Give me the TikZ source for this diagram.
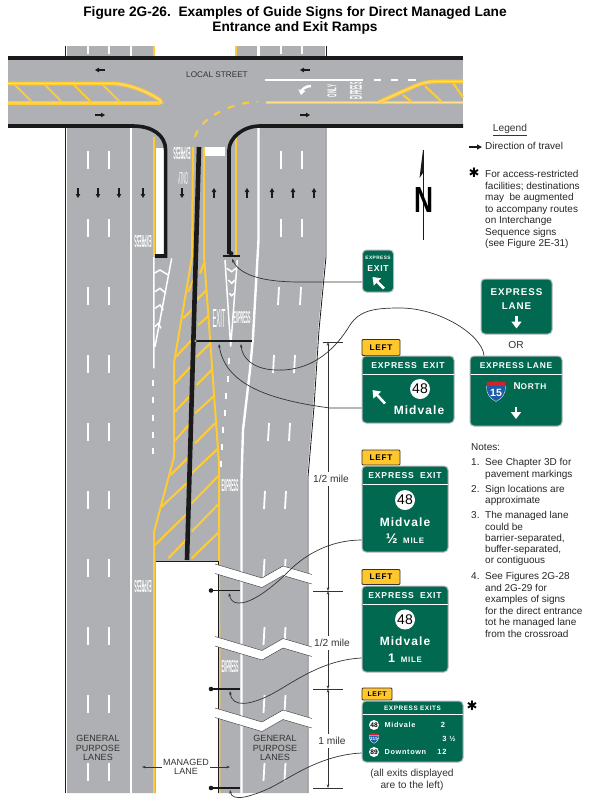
\documentclass[tikz,border=0pt]{standalone}
\usepackage{fontspec}
\usepackage{graphicx}
\usetikzlibrary{arrows.meta}
\setmainfont{Liberation Sans}
\newfontfamily\signfont[LetterSpace=9]{Liberation Sans}
\newfontfamily\symfont{DejaVu Sans}
\definecolor{roadgray}{HTML}{AEB0B3}
\definecolor{lineyellow}{HTML}{FFCB34}
\definecolor{curbblack}{HTML}{1A1A1A}
\definecolor{signgreen}{HTML}{00694F}
\definecolor{signedge}{HTML}{B4B7B9}
\definecolor{tabyellow}{HTML}{FFC72C}
\definecolor{inkgray}{HTML}{333333}
\definecolor{shieldblue}{HTML}{1F5CA8}
\definecolor{shieldred}{HTML}{D2232A}
\newcommand\fs[1]{\fontsize{#1}{#1}\selectfont}
% pavement word: name, x, y, rotation, width, height, text
\newcommand\pavemark[7]{\node[white,inner sep=0,rotate=#4] (#1) at (#2,#3) {\resizebox{#5pt}{#6pt}{#7}};}
% interstate shield: prefix, x, y, size, font size, number
\newcommand\ishield[6]{\begin{scope}[shift={(#2,#3)},scale=#4]
\fill[shieldblue,draw=white,line width=.3pt] (-1,-.55) .. controls (-1.05,.2) and (-.7,.8) .. (0,1.1) .. controls (.7,.8) and (1.05,.2) .. (1,-.55) -- cycle;
\fill[shieldred] (-1,-.55) -- (1,-.55) .. controls (1,-.8) and (.95,-.95) .. (.9,-1) .. controls (.5,-.9) and (.2,-.9) .. (0,-1.05) .. controls (-.2,-.9) and (-.5,-.9) .. (-.9,-1) .. controls (-.95,-.95) and (-1,-.8) .. (-1,-.55) -- cycle;
\node[white,inner sep=0,font=\bfseries\fs{#5}] (#1) at (0,.22) {#6};
\end{scope}}
\tikzset{
  road/.style={fill=roadgray,draw=none},
  edgeline/.style={draw=curbblack,line width=.8pt},
  whiteline/.style={draw=white,line width=2.4pt},
  dashmark/.style={draw=white,line width=1.8pt},
  thinwhite/.style={draw=white,line width=1.5pt},
  yellowline/.style={draw=lineyellow,line width=2pt},
  dblyellow/.style={draw=lineyellow,line width=1.5pt,double=lineyellow!60!white,double distance=.8pt},
  hatch/.style={draw=lineyellow,line width=2.1pt},
  curb/.style={draw=curbblack,line width=3.6pt},
  barrier/.style={draw=curbblack,line width=4.6pt},
  traffic/.style={draw=curbblack,line width=1.1pt,-{Triangle[length=4pt,width=4.4pt]}},
  signbox/.style={fill=signgreen,draw=signedge,line width=1pt,rounded corners=4pt,inner sep=0},
  tabbox/.style={fill=tabyellow,draw=inkgray,line width=.8pt,rounded corners=1pt,inner sep=0,font=\signfont\bfseries\fs{8.2}},
  signtext/.style={white,inner sep=0,font=\signfont\bfseries\fs{#1}},
  signtext/.default=8,
  signrule/.style={draw=white,line width=.7pt},
  signarrow/.style={draw=white,line width=2.6pt,-{Triangle[length=7pt,width=10pt]}},
  routecircle/.style={circle,fill=white,inner sep=0,minimum size=#1,text=black,font=\fs{14}},
  leader/.style={draw=inkgray,line width=.7pt,-{Stealth[length=3.6pt,width=2.6pt]}},
  postbar/.style={draw=curbblack,line width=1.1pt},
  dim/.style={draw=inkgray,line width=.6pt,{Stealth[length=3.6pt,width=2.6pt]}-{Stealth[length=3.6pt,width=2.6pt]}},
  tick/.style={draw=inkgray,line width=.7pt},
  label/.style={inner sep=0,text=inkgray,font=\fs{10.2},align=center},
  notes/.style={inner sep=0,anchor=west,text=black!85,font=\fs{10},text height=7.2pt,text depth=2.1pt},
  zigedge/.style={draw=inkgray,line width=.4pt},
}
\begin{document}
\begin{tikzpicture}[x=1pt,y=-1pt]
\useasboundingbox (0,0) rectangle (590,801);
\fill[white] (0,0) rectangle (590,801);
% title
\node[inner sep=0,font=\bfseries\fs{13.7},align=center] (title) at (295,20.5) {Figure 2G-26.\ \ Examples of Guide Signs for Direct Managed Lane\\[1.5pt]Entrance and Exit Ramps};
% road surfaces
\fill[road] (67,46) rectangle (155,60);
\fill[road] (235,46) rectangle (325,60);
\fill[road] (8,58) rectangle (463,126);
\fill[road] (67,126) -- (67,793) -- (307,793) -- (307,477) -- (313,407) -- (318,330) -- (325,257) -- (325,126) -- cycle;
% road edges
\draw[edgeline] (65.5,46) -- (65.5,56);
\draw[edgeline] (65.5,128) -- (65.5,793);
\draw[edgeline] (326,46) -- (326,56);
\draw[edgeline] (326,128) -- (326,257) -- (319,330) -- (314,407) -- (308,477) -- (308,793);
% lane lines outer
\draw[whiteline] (131,46) -- (131,56);
\draw[whiteline] (131,128) -- (131,793);
\draw[whiteline] (258.5,46) -- (258.5,56);
\draw[whiteline] (258.5,128) -- (258.5,240) -- (253,337) -- (250,370) -- (243,430) -- (241.5,480) -- (241.5,793);
\foreach \x in {88,109} {
  \draw[dashmark] (\x,46) -- (\x,54);
  \foreach \y in {151,219,287,355,423,491,559,627,695,763} \draw[dashmark] (\x,\y) -- (\x,\y+18);
}
\foreach \x in {281,302} {
  \draw[dashmark] (\x,46) -- (\x,54);
  \foreach \y in {151,219} \draw[dashmark] (\x,\y) -- (\x,\y+18);
}
\foreach \y/\a/\b in {287/279/301,355/274/295,423/269/290,491/265/286,559/264.5/285.5,627/264.5/285.5,695/264.5/285.5,763/264.5/285.5}
  \draw[dashmark] (\a,\y) -- (\a-1,\y+18) (\b,\y) -- (\b-1,\y+18);
% yellow edge lines
\draw[yellowline] (154,46) -- (154,56);
\draw[yellowline] (236,46) -- (236,56);
\draw[yellowline] (154,137) -- (154,256);
\draw[yellowline] (236,137) -- (236,256);
\draw[yellowline] (193,147) -- (192,257) -- (175,357) -- (174,363) -- (174,457) -- (154,532) -- (154,793);
\draw[yellowline] (204,147) -- (204,256) -- (219,463) -- (219.5,793);
% hatching
\begin{scope}[shift={(100,230)},scale=.3333]
\foreach \ax/\ay/\bx/\by in {265/185/283/145,250/265/283/232,228/380/280/325,225/460/275/407,225/545/272/495,225/632/270/580,212/735/267/680,185/830/265/755,165/945/262/850,205/985/258/930,
  300/130/312/100,290/210/320/180,295/285/325/258,290/380/330/340,290/465/335/420,285/550/340/500,285/640/345/580,275/730/355/655,275/820/358/735,275/905/358/820,275/985/358/905}
  \draw[hatch] (\ax,\ay) -- (\bx,\by);
% gore markings
\draw[thinwhite] (162,80) -- (162,415) (215,85) -- (165,350);
\draw[thinwhite] (162,130) -- (180,120) -- (205,135) (165,185) -- (180,175) -- (198,190) (165,235) -- (180,225) -- (190,240) (165,290) -- (175,280) -- (183,295);
\draw[thinwhite] (375,90) -- (392,350) -- (412,90);
\draw[thinwhite] (380,115) -- (395,125) -- (408,115) (385,150) -- (395,160) -- (405,150) (388,190) -- (395,197) -- (402,190);
\foreach \x/\y in {160/450,160/500,160/555,160/605,160/655,388/385,383/438,378/488,375/540,370/590,365/643,362/693}
  \draw[dashmark] (\x,\y) -- (\x,\y+18);
\end{scope}
% cross street markings
\draw[dblyellow] (8,83.5) -- (113,83.5) .. controls (130,84) and (150,93) .. (160,100) .. controls (162,102) and (161,103) .. (159,103) -- (8,103);
\foreach \a/\b in {15/32,45/62,74/91,103/120} \draw[hatch] (\a,85) -- (\b,102);
\draw[dblyellow] (266,102.5) -- (463,102.5);
\draw[dblyellow] (379,102) -- (415,86) .. controls (425,82) and (430,81.5) .. (440,81.5) -- (463,81.5);
\draw[hatch] (403,95) -- (412,102) (425,86) -- (442,102) (453,83) -- (463,97);
\draw[yellowline,dash pattern=on 7pt off 8pt] (195,137) .. controls (200,118) and (230,103) .. (258,101.5);
\draw[draw=white,line width=1.6pt] (265,80) -- (363,80) (374,80) -- (381,80) (391,80) -- (398,80) (408,80) -- (416,80);
\draw[draw=white,line width=2.4pt,-{Triangle[length=5pt,width=7pt]}] (311,86) .. controls (305,86) and (302,90) .. (301,95);
% pavement words
\pavemark{pwa}{182}{153.5}{180}{17}{12}{\bfseries EXPRESS}
\pavemark{pwb}{183}{178}{180}{10}{12}{ONLY}
\pavemark{pwc}{143}{241}{180}{17}{12}{\bfseries EXPRESS}
\pavemark{pwd}{143}{586}{180}{17}{12}{\bfseries EXPRESS}
\pavemark{pwe}{230}{486}{0}{17}{12}{\bfseries EXPRESS}
\pavemark{pwf}{230}{667}{0}{17}{12}{\bfseries EXPRESS}
\pavemark{pwg}{219}{318}{0}{13}{18}{EXIT}
\pavemark{pwh}{242}{318}{0}{17}{12}{\bfseries EXPRESS}
\pavemark{pwi}{332}{91}{90}{12}{9}{\bfseries ONLY}
\pavemark{pwj}{356}{91}{90}{17}{12}{\bfseries EXPRESS}
\node[label,font=\fs{8.2}] (street) at (217,75) {LOCAL STREET};
% curbs, barrier
\fill[white] (156,148) rectangle (164,254);
\fill[white] (205,147) rectangle (225,156);
\draw[curb] (8,58) -- (463,58);
\draw[curb] (8,126) -- (133,126) .. controls (152,126) and (165.6,135) .. (165.6,150) -- (165.6,256) -- (155,256);
\draw[curb] (463,126) -- (260,126) .. controls (243,126) and (229,138) .. (229,150) -- (229,254);
\draw[barrier] (199,147) -- (187,560);
% managed lane cut-away
\fill[white] (156,561) rectangle (218,800);
\draw[draw=curbblack,line width=.8pt] (155.5,561) -- (218,561) -- (218,793);
\foreach \y in {0,72.5,144} {
  \fill[white] (215,564+\y) -- (262,578+\y) -- (283,566+\y) -- (312,574.5+\y) -- (312,584+\y) -- (283,575.5+\y) -- (262,587.5+\y) -- (215,573.5+\y) -- cycle;
  \draw[zigedge] (215,564+\y) -- (262,578+\y) -- (283,566+\y) -- (312,574.5+\y);
  \draw[zigedge] (312,584+\y) -- (283,575.5+\y) -- (262,587.5+\y) -- (215,573.5+\y);
}
% traffic arrows
\foreach \x in {78,98,119,143,182} \draw[traffic] (\x,188) -- (\x,198);
\foreach \x in {214,247,272,293,314} \draw[traffic] (\x,198) -- (\x,188);
\draw[traffic] (105,70) -- (95,70);
\draw[traffic] (310,70) -- (300,70);
\draw[traffic] (95,115) -- (105,115);
\draw[traffic] (300,115) -- (310,115);
% sign posts
\coordinate (p0) at (232,259);
\coordinate (p1a) at (219,344);
\coordinate (p1b) at (241,344);
\coordinate (p2) at (229,593);
\coordinate (p3) at (230,691);
\coordinate (p4) at (230,790);
\draw[postbar] (223,256) -- (240,256);
\fill[curbblack] (231,253.5) circle (2.4);
\draw[postbar] (196,341) -- (252,341);
\draw[draw=inkgray,fill=roadgray,line width=.5pt] (195.5,341) circle (1.7);
\foreach \y in {590.5,689,788} {
  \draw[postbar] (211,\y) -- (240,\y);
  \fill[curbblack] (211,\y) circle (2.3);
}
% signs
\node[signbox,minimum width=31pt,minimum height=42pt] (s1) at (378,271) {};
\node[signtext=4.8] (s1a) at (378,258) {EXPRESS};
\node[signtext=8.6] (s1b) at (378,269) {EXIT};
\draw[signarrow] (384,288.5) -- (372.5,277);
\node[signbox,minimum width=71pt,minimum height=55pt] (s2) at (516.5,306.5) {};
\node[signtext=9.8] (s2a) at (516.5,292) {EXPRESS};
\node[signtext=9.8] (s2b) at (516.5,306) {LANE};
\draw[signarrow] (516.5,316) -- (516.5,328.5);
\node[inner sep=0,text=inkgray,font=\fs{10.2}] (or) at (516,345) {OR};
\node[signbox,minimum width=92pt,minimum height=70pt] (s3) at (516,391) {};
\draw[signrule] (470.5,374) -- (561.5,374);
\node[signtext=8.4] (s3a) at (516,365.5) {EXPRESS LANE};
\ishield{s3s}{496}{391}{9.5}{10.5}{15}
\node[white,inner sep=0,font=\signfont\bfseries] (s3b) at (530,386) {\fs{9.8}N\fs{8.3}ORTH};
\draw[signarrow] (516,407) -- (516,419);
\node[tabbox,minimum width=38pt,minimum height=16pt] (t4) at (381,347.5) {LEFT};
\node[signbox,minimum width=92pt,minimum height=67pt] (s4) at (408,389.5) {};
\draw[signrule] (362.5,374) -- (453.5,374);
\node[signtext=8.6] (s4a) at (408,365.5) {EXPRESS\ \ EXIT};
\draw[signarrow] (385,403.5) -- (372.5,390);
\node[routecircle=20pt] (s4c) at (420,389) {48};
\node[signtext=12] (s4b) at (419,410.5) {Midvale};
\node[tabbox,minimum width=38pt,minimum height=15pt] (t5) at (381,457.5) {LEFT};
\node[signbox,minimum width=86pt,minimum height=86pt] (s5) at (405,509) {};
\draw[signrule] (362.5,484) -- (447.5,484);
\node[signtext=8.6] (s5a) at (405,475.5) {EXPRESS\ \ EXIT};
\node[routecircle=20pt] (s5c) at (405,500) {48};
\node[signtext=12] (s5b) at (405,522) {Midvale};
\node[signtext=7.9] (s5d) at (405,539) {{\fs{14}½}\ \ MILE};
\node[tabbox,minimum width=38pt,minimum height=15pt] (t6) at (381,577) {LEFT};
\node[signbox,minimum width=86pt,minimum height=86pt] (s6) at (405,629) {};
\draw[signrule] (362.5,604) -- (447.5,604);
\node[signtext=8.6] (s6a) at (405,595.5) {EXPRESS\ \ EXIT};
\node[routecircle=20pt] (s6c) at (405,619.5) {48};
\node[signtext=12] (s6b) at (405,641) {Midvale};
\node[signtext=7.9] (s6d) at (405,658) {{\fs{12.5}1}\ \ MILE};
\node[tabbox,minimum width=30pt,minimum height=12pt,font=\signfont\bfseries\fs{6.8}] (t7) at (377,694) {LEFT};
\node[signbox,minimum width=101pt,minimum height=61pt] (s7) at (412.5,731.5) {};
\draw[signrule] (362.5,714.5) -- (462.5,714.5);
\node[signtext=6.4] (s7a) at (412.5,708.5) {EXPRESS EXITS};
\node[routecircle=10pt,font=\bfseries\fs{6.6}] (s7c) at (374,725) {48};
\node[signtext=7.3,anchor=west] (s7b) at (384.5,725) {Midvale};
\node[signtext=7.5] (s7d) at (443,725) {2};
\ishield{s7s}{374}{738}{4.8}{4.6}{215}
\node[signtext=7.5] (s7e) at (449,738.5) {3 ½};
\node[routecircle=10pt,font=\bfseries\fs{6.6}] (s7f) at (374,752) {89};
\node[signtext=7.3,anchor=west] (s7g) at (384.5,752) {Downtown};
\node[signtext=7.5] (s7h) at (442,752) {12};
% leaders
\draw[leader] ([yshift=-11pt]s1.west) -- (300,282) .. controls (262,282) and (240,275) .. (p0);
\draw[leader] ([xshift=-32pt]s3.north) .. controls (482,335) and (440,308) .. (400,308) .. controls (375,308) and (360,310) .. (350,325) .. controls (338,345) and (315,372) .. (275,370) .. controls (253,369) and (242,358) .. (p1b);
\draw[leader] ([yshift=-18.5pt]s4.west) -- (330,408) .. controls (270,400) and (225,385) .. (p1a);
\draw[leader] ([yshift=-31pt]s5.west) .. controls (330,540) and (305,555) .. (290,570) .. controls (270,590) and (250,604) .. (238,603) .. controls (232,603) and (230,598) .. (p2);
\draw[leader] ([yshift=-29pt]s6.west) .. controls (320,660) and (290,685) .. (270,695) .. controls (250,705) and (232,708) .. (p3);
\draw[leader] ([yshift=-21.5pt]s7.west) .. controls (320,755) and (290,778) .. (270,788) .. controls (250,797) and (232,802) .. (p4);
% dimensions
\coordinate (d0) at (328,342);
\coordinate (d1) at (328,591);
\coordinate (d2) at (328,689);
\coordinate (d3) at (328,788);
\draw[tick] (323,342) -- (343,342);
\foreach \y in {591,689,788} \draw[tick] (313,\y) -- (343,\y);
\draw[dim] (d0) -- (d1);
\draw[dim] (d1) -- (d2);
\draw[dim] (d2) -- (d3);
\node[label,fill=white,inner ysep=3pt] (m1) at (331,479) {1/2 mile};
\node[label,fill=white,inner ysep=3pt] (m2) at (332,643) {1/2 mile};
\node[label,fill=white,inner ysep=3pt] (m3) at (332,741) {1 mile};
% lane labels
\coordinate (ml) at (142,767);
\coordinate (mr) at (230,767);
\draw[dim] (ml) -- (mr);
\node[label,fill=white,font=\fs{9},inner xsep=1pt] (mlane) at (186,767) {MANAGED\\[-.5pt]LANE};
\node[label,font=\fs{9}] (gp1) at (98,748) {GENERAL\\[.3pt]PURPOSE\\[.3pt]LANES};
\node[label,font=\fs{9}] (gp2) at (275,748) {GENERAL\\[.3pt]PURPOSE\\[.3pt]LANES};
\node[label] (allex) at (412,780) {(all exits displayed\\[1.5pt]are to the left)};
\node[inner sep=0,font=\symfont\bfseries\fs{13}] (st2) at (472,706) {✱};
% legend
\node[label] (leg) at (510,129) {Legend};
\draw[draw=inkgray,line width=.7pt] (493,135) -- (527,135);
\coordinate (la) at (469,147);
\coordinate (lb) at (482,147);
\draw[draw=curbblack,line width=1.2pt,-{Triangle[length=5pt,width=5pt]}] (la) -- (lb);
\node[notes] (leg1) at (485,147) {Direction of travel};
\node[inner sep=0,font=\symfont\bfseries\fs{13}] (st1) at (474,173) {✱};
\foreach \n/\y/\t in {a/175/For access-restricted,b/186.5/{facilities; destinations},c/198/{may\ \ be augmented},d/209.5/to accompany routes,e/221/on Interchange,f/232.5/Sequence signs,g/244/(see Figure 2E-31)}
  \node[notes] (leg\n) at (485,\y) {\t};
% north arrow
\draw[draw=curbblack,line width=.8pt] (423,150) -- (423,240);
\fill[curbblack] (423,150) -- (419.5,178) -- (423,173) -- cycle;
\node[inner sep=0] (north) at (423.5,200) {\resizebox{19pt}{25pt}{\bfseries N}};
% notes
\node[notes] (n0) at (471,448) {Notes:};
\foreach \n/\y/\t in {n1/463/1.,n2/490/2.,n3/516/3.,n4/577/4.}
  \node[notes] (\n) at (471,\y) {\t};
\foreach \n/\y/\t in {na/463/See Chapter 3D for,nb/475/pavement markings,nc/490/Sign locations are,nd/501/approximate,ne/516/The managed lane,nf/527.5/could be,ng/538.5/{barrier-separated,},nh/549.5/{buffer-separated,},ni/561/or contiguous,nj/577/See Figures 2G-28,nk/588.5/and 2G-29 for,nl/600/examples of signs,nm/611.5/for the direct entrance,nn/623/tot he managed lane,no/634.5/from the crossroad}
  \node[notes] (\n) at (485,\y) {\t};
\end{tikzpicture}
\end{document}
